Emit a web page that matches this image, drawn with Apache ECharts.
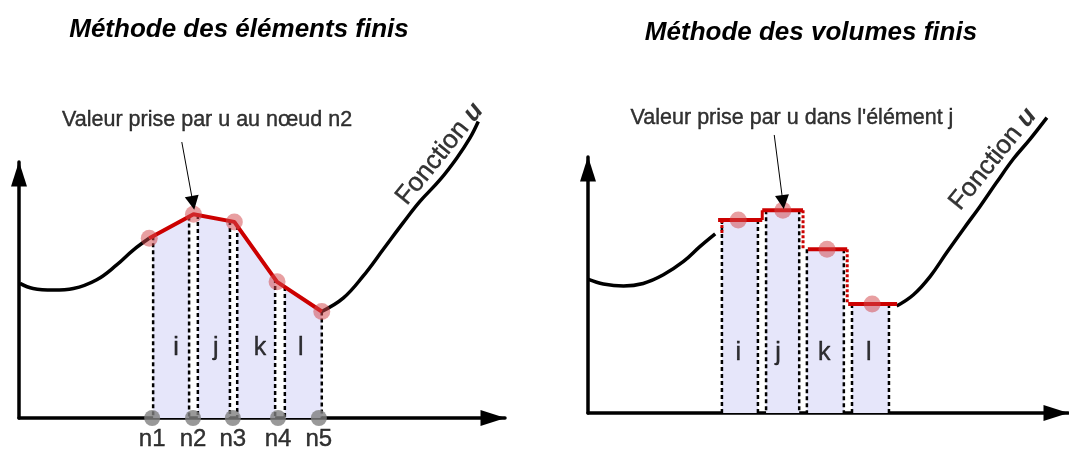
<!DOCTYPE html>
<html>
<head>
<meta charset="utf-8">
<script src="https://cdn.jsdelivr.net/npm/echarts@6/dist/echarts.min.js"></script>
<style>
  html, body { margin: 0; padding: 0; background: #fff; }
  #chart { width: 1069px; height: 450px; }
</style>
</head>
<body>
<div id="chart"></div>
<script>
// ---- left panel: finite elements ----
const feCurveA = [[0.02, 2.63], [0.29, 2.53], [0.71, 2.50], [1.12, 2.53], [1.60, 2.70], [2.01, 2.99], [2.35, 3.28], [2.68, 3.51]]
const feCurveB = [[6.23, 2.08], [6.67, 2.34], [7.08, 2.77], [7.50, 3.30], [7.91, 3.82], [8.25, 4.23], [8.66, 4.65], [9.01, 5.08], [9.28, 5.47], [9.45, 5.79]]
const feNodeX = [2.68, 3.59, 4.43, 5.31, 6.23]
const feNodeY = [3.51, 3.98, 3.83, 2.66, 2.08]
const feAxisNodeX = [2.74, 3.58, 4.40, 5.33, 6.17]
const feNodeNames = ['n1', 'n2', 'n3', 'n4', 'n5']
const feElemLeft = [2.76, 3.68, 4.49, 5.47]
const feElemRight = [3.50, 4.34, 5.27, 6.23]
const feElemLabelX = [3.23, 4.05, 4.96, 5.80]
const feElemLabelY = 1.37
const feNote = 'Valeur prise par u au nœud n2'
const feNotePos = [3.87, 5.82]
const feArrow = [[3.35, 5.39], [3.58, 4.20]]
const feFunctionPos = [8.66, 5.16]

// ---- right panel: finite volumes ----
const fvCurveA = [[0.01, 2.61], [0.32, 2.52], [0.74, 2.48], [1.15, 2.53], [1.57, 2.70], [1.99, 2.96], [2.33, 3.25], [2.65, 3.50]]
const fvCurveB = [[6.43, 2.09], [6.78, 2.31], [7.13, 2.67], [7.47, 3.13], [7.82, 3.59], [8.17, 4.04], [8.51, 4.50], [8.86, 4.96], [9.21, 5.35], [9.56, 5.77]]
const fvStepLeft = [2.71, 3.63, 4.58, 5.42]
const fvStepRight = [3.63, 4.48, 5.40, 6.44]
const fvValue = [3.77, 3.96, 3.20, 2.13]
const fvLeadInBottom = 3.50
const fvCellLeft = [2.79, 3.71, 4.56, 5.50]
const fvCellRight = [3.54, 4.40, 5.33, 6.27]
const fvCellMid = [3.13, 4.06, 4.98, 5.92]
const fvElemLabelX = [3.13, 3.96, 4.92, 5.85]
const fvElemLabelY = 1.17
const fvNote = "Valeur prise par u dans l'élément j"
const fvNotePos = [4.25, 5.76]
const fvArrow = [[3.88, 5.43], [4.06, 4.12]]
const fvFunctionPos = [8.44, 4.96]

const elemNames = ['i', 'j', 'k', 'l']

const FONT = 'Liberation Sans'
const INK = '#000'
const RED = '#cc0000'
const PINK = 'rgba(210, 70, 75, 0.65)'
const SHADE = '#e6e6fa'

const chart = echarts.init(document.getElementById('chart'))

const hiddenAxis = (gridIndex) => ({
  gridIndex,
  type: 'value',
  min: 0,
  axisLine: {
    show: true,
    onZero: false,
    symbol: ['none', 'triangle'],
    symbolSize: [16, 25],
    symbolOffset: [0, -12],
    lineStyle: { color: '#000', width: 3.5 }
  },
  axisTick: { show: false },
  axisLabel: { show: false },
  splitLine: { show: false }
})

// red polyline height at x (left panel), used to shape the element tops
const feTop = (x) => {
  for (let i = 0; i < feNodeX.length - 1; i++) {
    if (x <= feNodeX[i + 1] || i === feNodeX.length - 2) {
      const t = (x - feNodeX[i]) / (feNodeX[i + 1] - feNodeX[i])
      return feNodeY[i] + t * (feNodeY[i + 1] - feNodeY[i])
    }
  }
}

const dotted = (a, b, color, width, dash) => ({
  type: 'line',
  shape: { x1: a[0], y1: a[1], x2: b[0], y2: b[1] },
  style: { stroke: color, lineWidth: width, lineDash: dash }
})

// plain text style, slightly weighted to match the darker reference glyphs
const ink = (size) => ({
  fontFamily: FONT,
  fontSize: size,
  color: INK,
  textBorderColor: INK,
  textBorderWidth: 0.4
})

const textPoint = (xi, pos, text, size) => ({
  type: 'scatter',
  xAxisIndex: xi,
  yAxisIndex: xi,
  data: [pos],
  symbolSize: 1,
  itemStyle: { color: 'rgba(0,0,0,0)' },
  clip: false,
  silent: true,
  z: 6,
  label: Object.assign({ show: true, position: 'inside', formatter: text }, ink(size))
})

const functionLabel = (xi, pos) => ({
  type: 'scatter',
  xAxisIndex: xi,
  yAxisIndex: xi,
  data: [pos],
  symbolSize: 1,
  itemStyle: { color: 'rgba(0,0,0,0)' },
  clip: false,
  z: 6,
  label: {
    show: true,
    position: 'inside',
    rotate: 51,
    formatter: '{a|Fonction }{b|u}',
    rich: {
      a: ink(26),
      b: Object.assign(ink(26), { fontWeight: 'bold', fontStyle: 'italic', textBorderWidth: 0 })
    }
  }
})

const curve = (xi, data) => ({
  type: 'line',
  xAxisIndex: xi,
  yAxisIndex: xi,
  data,
  smooth: 0.4,
  symbol: 'none',
  clip: false,
  z: 3,
  lineStyle: { color: '#000', width: 3.5 }
})

const arrow = (xi, coords) => ({
  type: 'lines',
  coordinateSystem: 'cartesian2d',
  xAxisIndex: xi,
  yAxisIndex: xi,
  clip: false,
  z: 6,
  symbol: ['none', 'triangle'],
  symbolSize: [9, 14],
  lineStyle: { color: '#000', width: 1, opacity: 1 },
  data: [{ coords }]
})

const labelRow = (xi, xs, y) => ({
  type: 'scatter',
  xAxisIndex: xi,
  yAxisIndex: xi,
  data: xs.map((x) => [x, y]),
  symbolSize: 1,
  itemStyle: { color: 'rgba(0,0,0,0)' },
  z: 6,
  label: Object.assign({
    show: true,
    position: 'inside',
    formatter: (p) => elemNames[p.dataIndex]
  }, ink(25))
})

const option = {
  animation: false,
  backgroundColor: '#fff',
  title: [
    {
      text: 'Méthode des éléments finis',
      left: 234,
      top: 12,
      textAlign: 'center',
      textStyle: { fontFamily: FONT, fontSize: 26, fontWeight: 'bold', fontStyle: 'italic', color: '#000' }
    },
    {
      text: 'Méthode des volumes finis',
      left: 806,
      top: 15,
      textAlign: 'center',
      textStyle: { fontFamily: FONT, fontSize: 26, fontWeight: 'bold', fontStyle: 'italic', color: '#000' }
    }
  ],
  grid: [
    { left: 19, top: 162, width: 486, height: 256 },
    { left: 588, top: 157, width: 480, height: 256 }
  ],
  xAxis: [
    Object.assign(hiddenAxis(0), { max: 10 }),
    Object.assign(hiddenAxis(1), { max: 10 })
  ],
  yAxis: [
    Object.assign(hiddenAxis(0), { max: 5 }),
    Object.assign(hiddenAxis(1), { max: 5 })
  ],
  series: [
    // ---------- left ----------
    {
      type: 'custom',
      xAxisIndex: 0,
      yAxisIndex: 0,
      z: 1,
      silent: true,
      data: feElemLeft.map((l, i) => [l, feElemRight[i]]),
      renderItem: (params, api) => {
        const xl = api.value(0)
        const xr = api.value(1)
        const b0 = api.coord([xl, 0])
        const t0 = api.coord([xl, feTop(xl)])
        const t1 = api.coord([xr, feTop(xr)])
        const b1 = api.coord([xr, 0])
        return {
          type: 'group',
          children: [
            { type: 'polygon', shape: { points: [b0, t0, t1, b1] }, style: { fill: SHADE } },
            dotted(t0, b0, '#000', 2.5, [4, 3]),
            dotted(t1, b1, '#000', 2.5, [4, 3])
          ]
        }
      }
    },
    curve(0, feCurveA),
    curve(0, feCurveB),
    {
      type: 'line',
      xAxisIndex: 0,
      yAxisIndex: 0,
      data: feNodeX.map((x, i) => [x, feNodeY[i]]),
      symbol: 'none',
      z: 4,
      lineStyle: { color: RED, width: 4 }
    },
    {
      type: 'scatter',
      xAxisIndex: 0,
      yAxisIndex: 0,
      data: feNodeX.map((x, i) => [x, feNodeY[i]]),
      symbolSize: 17,
      z: 5,
      itemStyle: { color: PINK }
    },
    {
      type: 'scatter',
      xAxisIndex: 0,
      yAxisIndex: 0,
      data: feAxisNodeX.map((x) => [x, 0]),
      symbolSize: 16,
      clip: false,
      z: 5,
      itemStyle: { color: '#808080' },
      label: Object.assign({
        show: true,
        position: 'bottom',
        distance: 1,
        formatter: (p) => feNodeNames[p.dataIndex]
      }, ink(24))
    },
    labelRow(0, feElemLabelX, feElemLabelY),
    textPoint(0, feNotePos, feNote, 21.5),
    arrow(0, feArrow),
    functionLabel(0, feFunctionPos),

    // ---------- right ----------
    {
      type: 'custom',
      xAxisIndex: 1,
      yAxisIndex: 1,
      z: 1,
      silent: true,
      data: fvCellLeft.map((l, i) => [l, fvCellRight[i], fvValue[i]]),
      renderItem: (params, api) => {
        const xl = api.value(0)
        const xr = api.value(1)
        const v = api.value(2)
        const b0 = api.coord([xl, 0])
        const t0 = api.coord([xl, v])
        const t1 = api.coord([xr, v])
        const b1 = api.coord([xr, 0])
        return {
          type: 'group',
          children: [
            { type: 'polygon', shape: { points: [b0, t0, t1, b1] }, style: { fill: SHADE } },
            dotted(t0, b0, '#000', 2.5, [4, 3]),
            dotted(t1, b1, '#000', 2.5, [4, 3])
          ]
        }
      }
    },
    curve(1, fvCurveA),
    curve(1, fvCurveB),
    {
      type: 'custom',
      xAxisIndex: 1,
      yAxisIndex: 1,
      z: 4,
      silent: true,
      data: fvStepLeft.map((l, i) => [l, fvStepRight[i], fvValue[i]]),
      renderItem: (params, api) => {
        const i = params.dataIndex
        const xl = api.value(0)
        const xr = api.value(1)
        const v = api.value(2)
        const a = api.coord([xl, v])
        const b = api.coord([xr, v])
        const children = [
          { type: 'line', shape: { x1: a[0], y1: a[1], x2: b[0], y2: b[1] }, style: { stroke: RED, lineWidth: 4 } }
        ]
        if (i === 0) {
          const p = api.coord([fvCellLeft[0], v])
          const q = api.coord([fvCellLeft[0], fvLeadInBottom])
          children.push(dotted(p, q, RED, 3, [3, 2]))
        }
        if (i < fvValue.length - 1) {
          const next = fvValue[i + 1]
          const p = api.coord([xr, v])
          const q = api.coord([xr, next])
          if (next > v) {
            children.push({ type: 'line', shape: { x1: p[0], y1: p[1], x2: q[0], y2: q[1] }, style: { stroke: RED, lineWidth: 3 } })
          } else {
            children.push(dotted(p, q, RED, 3, [3, 2]))
          }
        }
        return { type: 'group', children }
      }
    },
    {
      type: 'scatter',
      xAxisIndex: 1,
      yAxisIndex: 1,
      data: fvCellMid.map((x, i) => [x, fvValue[i]]),
      symbolSize: 17,
      z: 5,
      itemStyle: { color: PINK }
    },
    labelRow(1, fvElemLabelX, fvElemLabelY),
    textPoint(1, fvNotePos, fvNote, 21.5),
    arrow(1, fvArrow),
    functionLabel(1, fvFunctionPos)
  ]
}

chart.setOption(option)
window.addEventListener('resize', () => {
  chart.resize()
})
</script>
</body>
</html>
